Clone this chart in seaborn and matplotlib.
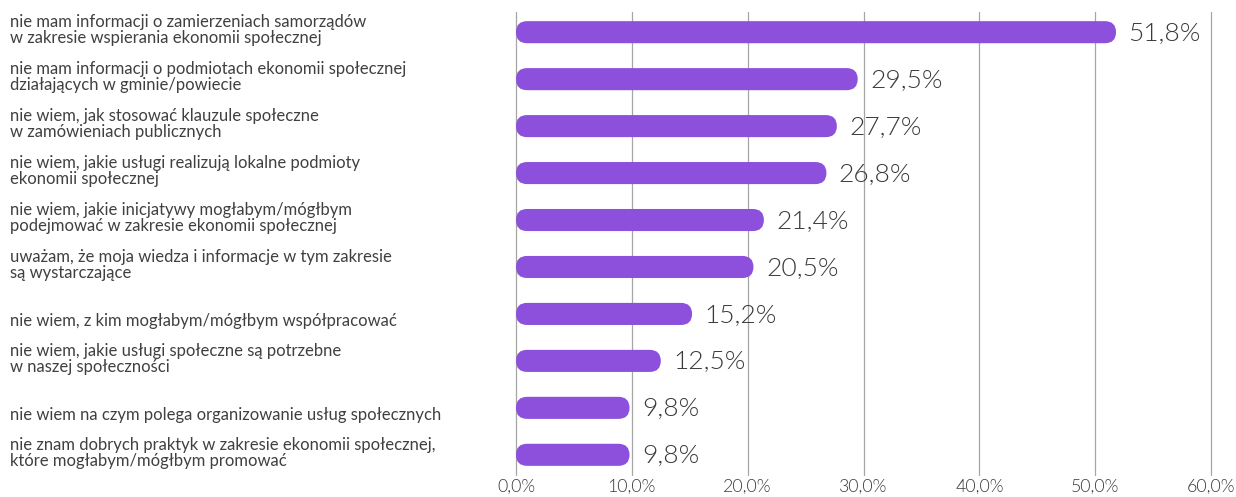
import matplotlib
matplotlib.use("Agg")
import matplotlib.pyplot as plt
import matplotlib.transforms as mtransforms
from matplotlib.patches import FancyBboxPatch
import seaborn as sns
import pandas as pd

categories = [
    "nie mam informacji o zamierzeniach samorządów\nw zakresie wspierania ekonomii społecznej",
    "nie mam informacji o podmiotach ekonomii społecznej\ndziałających w gminie/powiecie",
    "nie wiem, jak stosować klauzule społeczne\nw zamówieniach publicznych",
    "nie wiem, jakie usługi realizują lokalne podmioty\nekonomii społecznej",
    "nie wiem, jakie inicjatywy mogłabym/mógłbym\npodejmować w zakresie ekonomii społecznej",
    "uważam, że moja wiedza i informacje w tym zakresie\nsą wystarczające",
    "nie wiem, z kim mogłabym/mógłbym współpracować",
    "nie wiem, jakie usługi społeczne są potrzebne\nw naszej społeczności",
    "nie wiem na czym polega organizowanie usług społecznych",
    "nie znam dobrych praktyk w zakresie ekonomii społecznej,\nktóre mogłabym/mógłbym promować",
]
values = [51.8, 29.5, 27.7, 26.8, 21.4, 20.5, 15.2, 12.5, 9.8, 9.8]
tick_values = [0, 10, 20, 30, 40, 50, 60]
tick_labels = ["0,0%", "10,0%", "20,0%", "30,0%", "40,0%", "50,0%", "60,0%"]

BAR_COLOR = "#8C50DC"
GRID_COLOR = "#a6a6a6"
TEXT_COLOR = "#3a3a3a"
LABEL_COLOR = "#404040"

sns.set_theme(style="white")
plt.rcParams["font.family"] = ["Lato", "DejaVu Sans"]

df = pd.DataFrame({"label": categories, "value": values})

W, H, DPI = 1236, 497, 100
fig = plt.figure(figsize=(W / DPI, H / DPI), dpi=DPI)
ax_left, ax_right = 516 / W, 1211 / W
ax_bottom, ax_top = 1 - 475 / H, 1 - 12 / H
ax = fig.add_axes([ax_left, ax_bottom, ax_right - ax_left, ax_top - ax_bottom])

sns.barplot(data=df, x="value", y="label", color=BAR_COLOR, width=0.47,
            saturation=1, ax=ax, zorder=3)

y_lo, y_hi = len(categories) - 1 + 0.43, -0.43
ax.set_xlim(0, 60)
ax.set_ylim(y_lo, y_hi)

# Replace square bars with pill-shaped ones
ax_w_px = (ax_right - ax_left) * W
ax_h_px = (ax_top - ax_bottom) * H
x_per_px = 60 / ax_w_px
y_per_px = (y_lo - y_hi) / ax_h_px
aspect = y_per_px / x_per_px
for p in list(ax.patches):
    x0, y0 = p.get_x(), p.get_y()
    w, h = p.get_width(), p.get_height()
    radius = (h / aspect) / 2
    rounded = FancyBboxPatch((x0, y0), w, h,
                             boxstyle=f"round,pad=0,rounding_size={radius}",
                             mutation_aspect=aspect,
                             facecolor=BAR_COLOR, edgecolor="none", zorder=3)
    p.remove()
    ax.add_patch(rounded)

# Value labels
for i, v in enumerate(values):
    ax.annotate(f"{v:.1f}%".replace(".", ","), xy=(v, i), xytext=(9, -1),
                textcoords="offset points", va="center", ha="left",
                fontsize=19, fontweight=300, color=TEXT_COLOR)

# Vertical gridlines
ax.set_xticks(tick_values)
ax.set_xticklabels(tick_labels, fontsize=12.8, fontweight=300, color=TEXT_COLOR)
ax.tick_params(axis="x", length=0, pad=3)
for t in tick_values:
    ax.axvline(t, color=GRID_COLOR, linewidth=0.9, zorder=1, clip_on=False)

ax.set_yticks([])
ax.set_xlabel("")
ax.set_ylabel("")
for s in ax.spines.values():
    s.set_visible(False)

# Category labels, left-aligned at the figure edge; one-line labels sit a bit lower
trans = mtransforms.blended_transform_factory(fig.transFigure, ax.transData)
for i, lab in enumerate(categories):
    dy = 1.5 if "\n" in lab else -5
    ax.annotate(lab, xy=(10 / W, i), xycoords=trans, xytext=(0, dy),
                textcoords="offset points", ha="left", va="center",
                fontsize=12, color=LABEL_COLOR, linespacing=1.0,
                annotation_clip=False)

fig.savefig("out.png", dpi=DPI)
